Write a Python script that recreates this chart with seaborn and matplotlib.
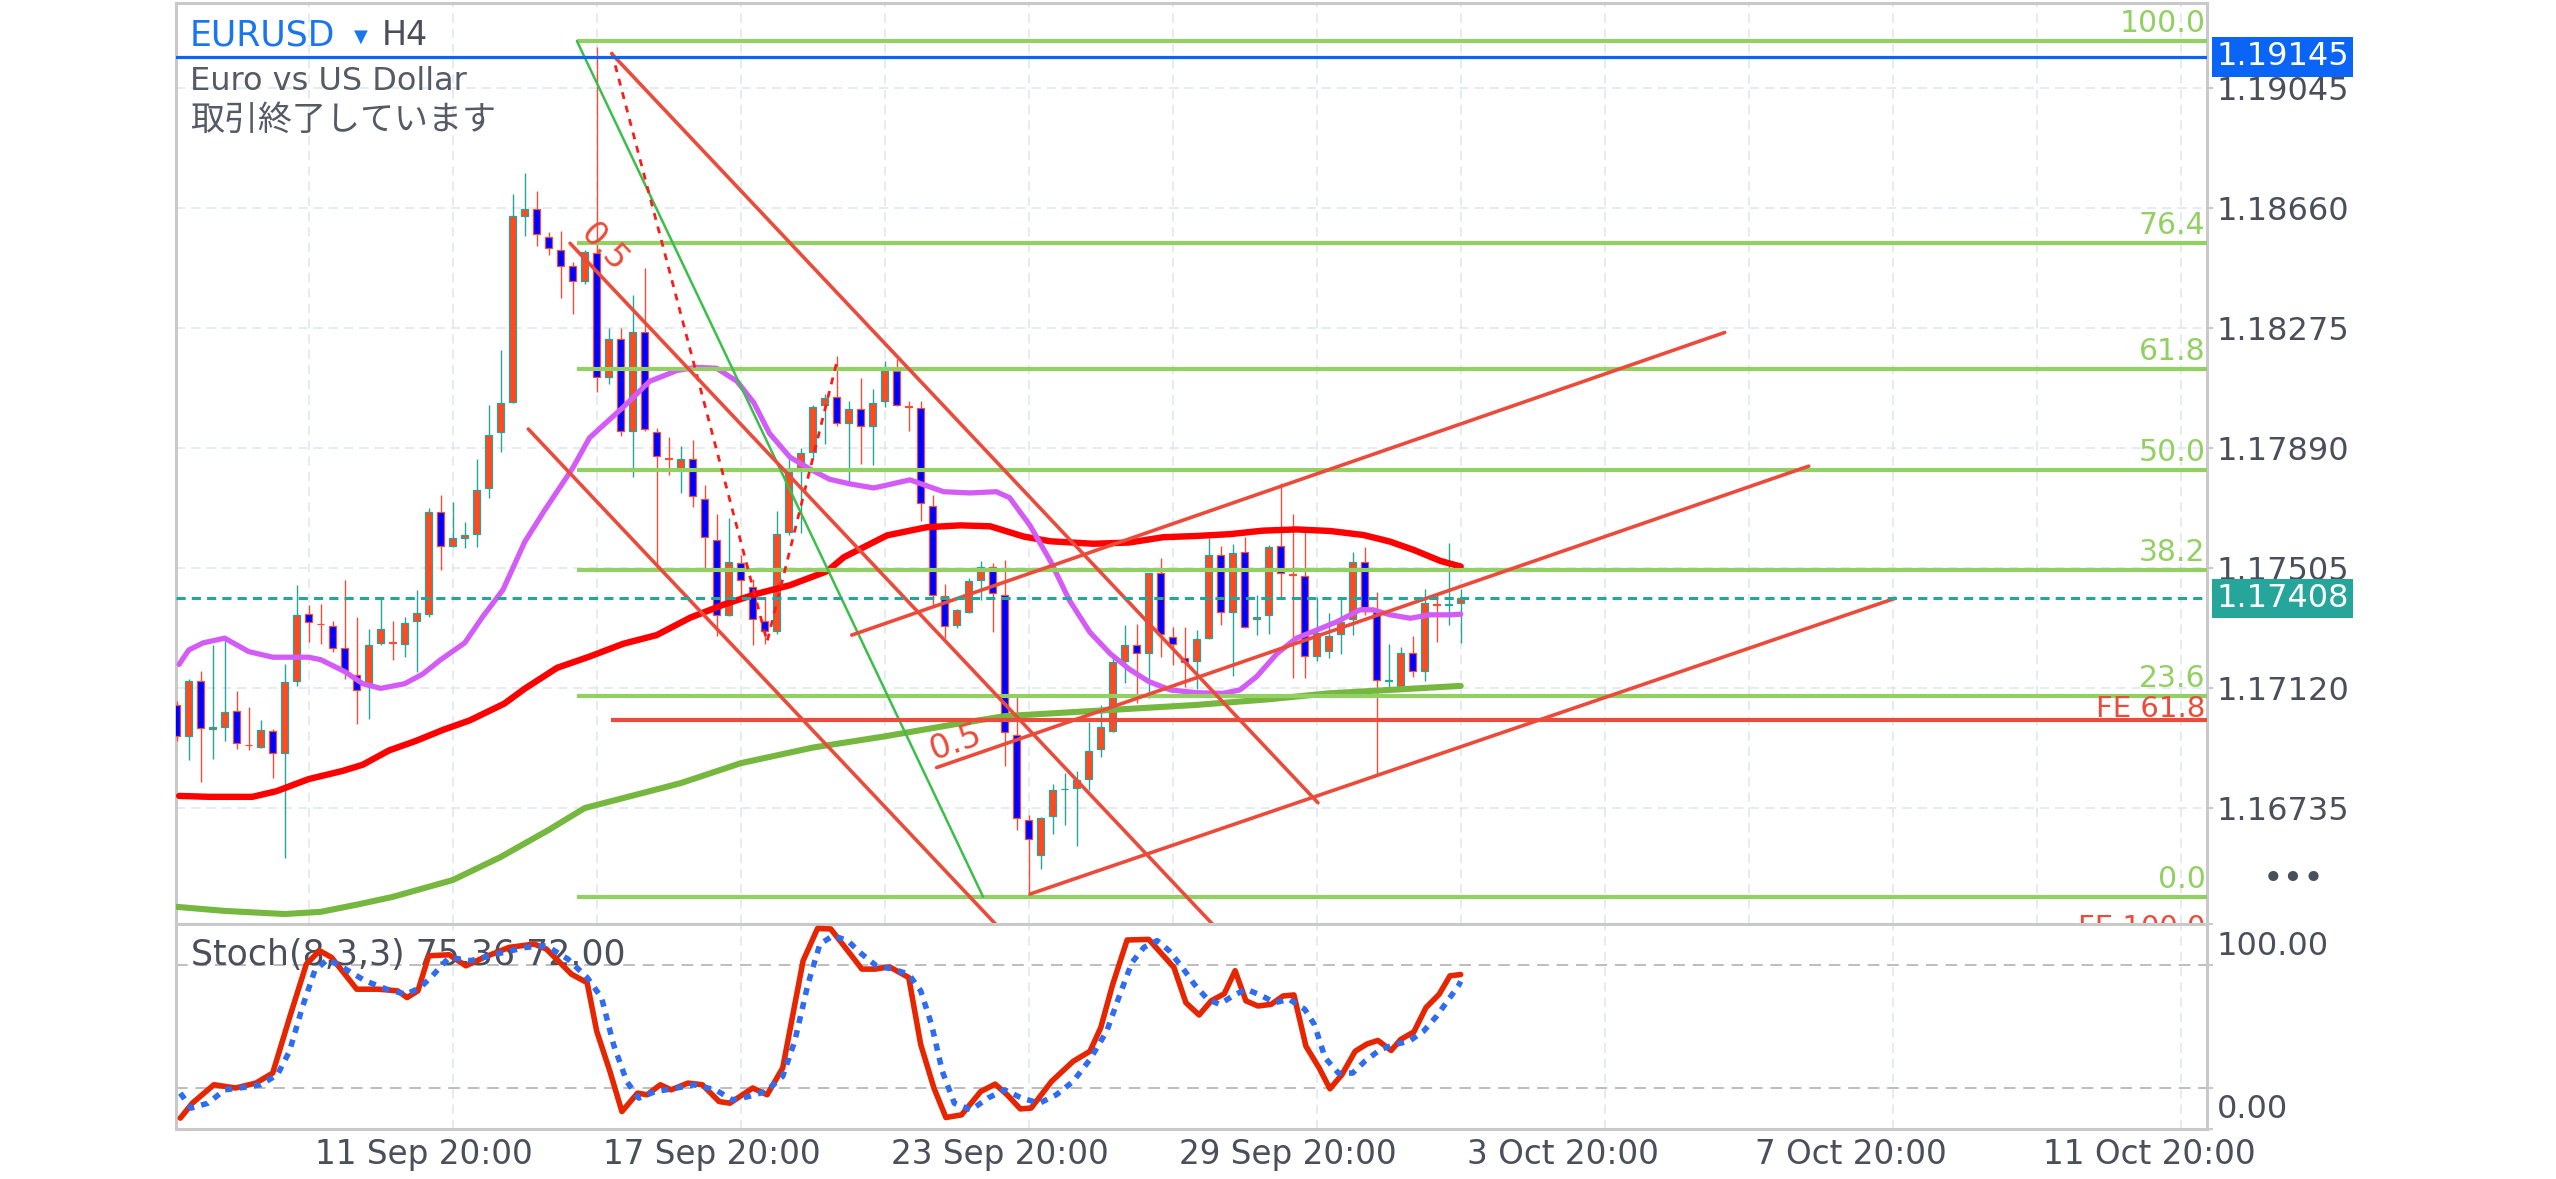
import numpy as np
import pandas as pd
import seaborn as sns
import matplotlib.pyplot as plt
from matplotlib import transforms

# EURUSD H4 candles, bars 1..108
opens = [1.17065, 1.16966, 1.17142, 1.16990, 1.16996, 1.17047, 1.16938, 1.16932, 1.16981, 1.16912,
         1.17142, 1.17357, 1.17326, 1.17319, 1.17247, 1.17161, 1.17134, 1.17265, 1.17268, 1.17260,
         1.17334, 1.17357, 1.17684, 1.17575, 1.17603, 1.17613, 1.17761, 1.17940, 1.18039, 1.18633,
         1.18658, 1.18567, 1.18526, 1.18473, 1.18427, 1.18515, 1.18118, 1.18240, 1.17944, 1.18264,
         1.17940, 1.17858, 1.17826, 1.17854, 1.17728, 1.17596, 1.17356, 1.17520, 1.17443, 1.17336,
         1.17304, 1.17620, 1.17815, 1.17879, 1.18028, 1.18054, 1.17969, 1.18016, 1.17962, 1.18041,
         1.18137, 1.18025, 1.18020, 1.17705, 1.17416, 1.17322, 1.17365, 1.17467, 1.17509, 1.17420,
         1.16970, 1.16697, 1.16583, 1.16710, 1.16795, 1.16798, 1.16827, 1.16925, 1.16982, 1.17208,
         1.17259, 1.17232, 1.17490, 1.17285, 1.17217, 1.17207, 1.17280, 1.17546, 1.17365, 1.17558,
         1.17341, 1.17353, 1.17577, 1.17486, 1.17481, 1.17223, 1.17239, 1.17294, 1.17341, 1.17526,
         1.17365, 1.17144, 1.17127, 1.17234, 1.17175, 1.17390, 1.17388, 1.17392]
highs = [1.17080, 1.17150, 1.17176, 1.17257, 1.17288, 1.17111, 1.17058, 1.17019, 1.16989, 1.17196,
         1.17452, 1.17385, 1.17391, 1.17334, 1.17468, 1.17349, 1.17311, 1.17411, 1.17334, 1.17349,
         1.17434, 1.17698, 1.17738, 1.17718, 1.17652, 1.17856, 1.18028, 1.18204, 1.18705, 1.18772,
         1.18716, 1.18584, 1.18588, 1.18487, 1.18524, 1.19178, 1.18274, 1.18274, 1.18380, 1.18469,
         1.17954, 1.17927, 1.17898, 1.17916, 1.17773, 1.17680, 1.17666, 1.17548, 1.17471, 1.17406,
         1.17687, 1.17854, 1.17889, 1.18028, 1.18065, 1.18187, 1.18041, 1.18114, 1.18080, 1.18168,
         1.18175, 1.18041, 1.18041, 1.17741, 1.17454, 1.17373, 1.17474, 1.17528, 1.17521, 1.17530,
         1.17090, 1.16713, 1.16706, 1.16811, 1.16849, 1.16853, 1.17010, 1.17065, 1.17223, 1.17322,
         1.17325, 1.17490, 1.17536, 1.17317, 1.17315, 1.17306, 1.17600, 1.17576, 1.17582, 1.17606,
         1.17419, 1.17579, 1.17777, 1.17678, 1.17622, 1.17413, 1.17362, 1.17411, 1.17558, 1.17574,
         1.17429, 1.17261, 1.17251, 1.17287, 1.17437, 1.17419, 1.17584, 1.17437]
lows = [1.16950, 1.16889, 1.16820, 1.16893, 1.16950, 1.16924, 1.16920, 1.16927, 1.16832, 1.16574,
        1.17127, 1.17268, 1.17262, 1.17237, 1.17150, 1.17004, 1.17022, 1.17257, 1.17211, 1.17219,
        1.17173, 1.17349, 1.17498, 1.17572, 1.17569, 1.17572, 1.17729, 1.17876, 1.18035, 1.18570,
        1.18538, 1.18508, 1.18371, 1.18320, 1.18417, 1.18069, 1.18097, 1.17930, 1.17798, 1.17944,
        1.17506, 1.17805, 1.17745, 1.17701, 1.17506, 1.17286, 1.17350, 1.17416, 1.17258, 1.17262,
        1.17294, 1.17610, 1.17617, 1.17854, 1.17902, 1.17962, 1.17775, 1.17838, 1.17835, 1.18022,
        1.18025, 1.17944, 1.17657, 1.17382, 1.17280, 1.17312, 1.17360, 1.17401, 1.17299, 1.16871,
        1.16665, 1.16456, 1.16538, 1.16652, 1.16680, 1.16612, 1.16792, 1.16900, 1.16980, 1.17137,
        1.17071, 1.17087, 1.17221, 1.17194, 1.17125, 1.17116, 1.17276, 1.17322, 1.17159, 1.17312,
        1.17290, 1.17294, 1.17413, 1.17151, 1.17151, 1.17208, 1.17218, 1.17229, 1.17290, 1.17354,
        1.16841, 1.17119, 1.17119, 1.17157, 1.17144, 1.17269, 1.17322, 1.17264]
closes = [1.16966, 1.17142, 1.16992, 1.16994, 1.17042, 1.16943, 1.16936, 1.16986, 1.16912, 1.17139,
          1.17354, 1.17331, 1.17324, 1.17250, 1.17176, 1.17115, 1.17257, 1.17308, 1.17266, 1.17330,
          1.17360, 1.17684, 1.17575, 1.17600, 1.17610, 1.17756, 1.17933, 1.18036, 1.18633, 1.18656,
          1.18577, 1.18531, 1.18473, 1.18427, 1.18519, 1.18118, 1.18240, 1.17944, 1.18264, 1.17951,
          1.17863, 1.17856, 1.17854, 1.17735, 1.17606, 1.17356, 1.17523, 1.17467, 1.17342, 1.17304,
          1.17614, 1.17812, 1.17875, 1.18021, 1.18051, 1.17969, 1.18016, 1.17962, 1.18035, 1.18137,
          1.18029, 1.18023, 1.17715, 1.17420, 1.17318, 1.17369, 1.17462, 1.17509, 1.17424, 1.16980,
          1.16703, 1.16637, 1.16703, 1.16792, 1.16797, 1.16824, 1.16919, 1.16995, 1.17204, 1.17259,
          1.17233, 1.17488, 1.17294, 1.17261, 1.17205, 1.17276, 1.17546, 1.17364, 1.17554, 1.17315,
          1.17349, 1.17572, 1.17488, 1.17484, 1.17223, 1.17298, 1.17288, 1.17333, 1.17526, 1.17379,
          1.17146, 1.17146, 1.17234, 1.17175, 1.17392, 1.17388, 1.17390, 1.17408]

# moving averages (bar, price)
ma_fast_x = [1.2, 2, 3.2, 5, 7, 9, 12, 13, 15, 16.5, 18, 20, 21.5, 23, 25, 26.5, 28.2, 30, 31.6, 34,
             35.4, 38.2, 40.4, 42.7, 44.3, 46, 47.7, 49.1, 50.4, 52.1, 53.8, 55.4, 57.1, 59.1, 62.1,
             64.9, 67.1, 69.3, 70.4, 72.1, 73.8, 75.4, 77.1, 78.8, 80.4, 82, 83.8, 86, 88.2, 89.6,
             91, 92.7, 94.3, 96, 97.7, 99.6, 100.7, 102.1, 103.8, 105.4, 107.1, 108]
ma_fast_y = [1.17196, 1.17242, 1.17265, 1.17280, 1.17237, 1.17219, 1.17219, 1.17211, 1.17173, 1.17134,
             1.17119, 1.17134, 1.17165, 1.17211, 1.17265, 1.17349, 1.17436, 1.17589, 1.17687, 1.17826,
             1.17923, 1.18021, 1.18104, 1.18139, 1.18149, 1.18146, 1.18104, 1.18035, 1.17937, 1.17861,
             1.17822, 1.17790, 1.17775, 1.17762, 1.17788, 1.17750, 1.17746, 1.17750, 1.17731, 1.17642,
             1.17528, 1.17401, 1.17299, 1.17230, 1.17180, 1.17141, 1.17114, 1.17105, 1.17103, 1.17114,
             1.17157, 1.17231, 1.17280, 1.17306, 1.17333, 1.17371, 1.17371, 1.17355, 1.17344, 1.17355,
             1.17355, 1.17357]
ma_mid_x = [1.2, 3.7, 7.3, 9.3, 12, 14.8, 16.5, 18.7, 20.9, 23.2, 25.4, 28.3, 30, 32.7, 35.4, 38.2,
            41, 43.8, 46.6, 49.3, 52.1, 55.2, 56.6, 60.2, 63.5, 66.3, 68.8, 71.6, 73.8, 77.4, 80.4,
            83.2, 86, 88.8, 91.5, 94.3, 97.1, 99.9, 102.1, 104.1, 106.3, 108]
ma_mid_y = [1.16774, 1.16771, 1.16771, 1.16789, 1.16828, 1.16854, 1.16874, 1.16920, 1.16950, 1.16986,
            1.17016, 1.17070, 1.17118, 1.17185, 1.17221, 1.17262, 1.17290, 1.17346, 1.17388, 1.17422,
            1.17450, 1.17495, 1.17540, 1.17610, 1.17636, 1.17642, 1.17639, 1.17606, 1.17591, 1.17583,
            1.17587, 1.17604, 1.17608, 1.17614, 1.17625, 1.17629, 1.17624, 1.17611, 1.17590, 1.17563,
            1.17528, 1.17510]
ma_slow_x = [1, 5, 10, 13, 16, 19, 24, 28, 32, 35, 40, 43, 48, 54, 60, 66, 70, 78, 86, 92, 97, 103, 108]
ma_slow_y = [1.16418, 1.16405, 1.16395, 1.16402, 1.16425, 1.16450, 1.16504, 1.16578, 1.16665, 1.16735,
             1.16785, 1.16815, 1.16879, 1.16929, 1.16965, 1.17005, 1.17030, 1.17048, 1.17066, 1.17084,
             1.17103, 1.17116, 1.17127]

# stochastic (8,3,3)
stoch_k_x = [1.3, 2.3, 4.1, 5.9, 7.6, 9, 10.4, 11.8, 12.9, 13.9, 16, 17.8, 19.4, 20.2, 21.1, 22, 23.7,
             25.1, 26.6, 28.7, 30.8, 31.8, 33.9, 35.2, 36, 37.1, 38.1, 39.4, 40.2, 41.3, 42.2, 43.6,
             44.8, 46.2, 47.1, 49, 50.2, 51.5, 53.2, 54.4, 55.5, 56.7, 58.1, 59.2, 60.4, 62, 63, 64.1,
             65.1, 66.4, 68, 69.2, 70.2, 71.3, 72.2, 73.9, 75.7, 77.1, 78, 79, 80.2, 82, 84.1, 85.1,
             86.2, 87.2, 88.3, 89.2, 90.1, 91.1, 92.2, 93.2, 94.1, 95.1, 96.2, 97.1, 98.1, 99.2, 100.2,
             101.1, 102.2, 103, 104.1, 105.1, 106.2, 107.1, 108]
stoch_k_y = [5.3, 12.6, 21.6, 20, 22.4, 27.3, 54.3, 80.4, 87, 83.7, 68.2, 68.2, 67.4, 64.1, 67.4, 84.5, 85,
             79.6, 83.7, 88.6, 90.2, 87.8, 75.5, 71.4, 47.7, 28.1, 8.5, 17.5, 16.7, 21.6, 19.1, 22.4,
             21.6, 13.4, 12.6, 20, 16.7, 29.8, 82.1, 97.8, 97.6, 88.6, 78, 78, 79.1, 73.9, 41.2, 20,
             5.6, 6.9, 18.3, 21.9, 16.7, 9.8, 10.2, 23.2, 33, 37.9, 49.4, 70.6, 92.2, 92.5, 78.8, 61.6,
             55.6, 62.5, 66, 77.2, 62.5, 60, 60.8, 64.9, 65.4, 40.4, 29.8, 19.6, 26.5, 37.9, 41.5,
             43.2, 38.3, 43.7, 47.4, 59.2, 65.7, 74.7, 75.36]
stoch_d_x = [1.3, 2.2, 3.6, 5, 6.6, 8, 9.4, 10.4, 11.5, 12.5, 13.6, 15.3, 16.7, 18.5, 20.1, 21.3, 22.3,
             23.7, 25.5, 27.6, 30.1, 31.8, 33.6, 35.2, 36.4, 37.4, 38.5, 39.5, 40.9, 42.3, 44.1, 45.9,
             47.3, 48.7, 50.1, 51.5, 52.5, 53.6, 54.6, 55.7, 56.9, 58.1, 59.3, 60.7, 62, 63, 63.9, 64.8,
             65.8, 67.2, 68.6, 70, 71.4, 72.9, 74.3, 75.7, 77.1, 78.5, 79.5, 80.6, 81.6, 82.7, 83.7,
             84.8, 85.8, 86.9, 87.9, 89, 90.1, 91.3, 92.5, 93.7, 95, 95.8, 96.7, 97.8, 99, 100, 101.3,
             102.5, 103.7, 104.9, 106, 106.9, 107.8, 108]
stoch_d_y = [17.5, 10.2, 12.6, 19.1, 20.3, 21.6, 26.5, 38, 60, 77.2, 82.9, 77.2, 72.3, 68.2, 65.7, 69,
             74.7, 83.7, 82.1, 85.3, 88.6, 89.4, 82.9, 73.9, 64.1, 41.2, 23.2, 15.1, 18.3, 19.6, 21.6,
             19.1, 14.2, 15.9, 18.3, 25.7, 42.8, 70.6, 90.2, 94.3, 91.9, 85.3, 79.6, 78, 75.5, 67.4, 51,
             28.1, 12.6, 9.3, 15.1, 19.1, 15.1, 12.6, 16.7, 23.2, 33.9, 47.7, 64.1, 81.2, 88.6, 91.9,
             87, 78.8, 70.6, 63.3, 60.8, 64.9, 68.2, 65.4, 61.6, 63.3, 58.4, 51, 34.7, 27.3, 27.3, 33,
             38.8, 41.2, 42.8, 47.7, 55.1, 62.5, 69.8, 72.0]

# drawing objects (bar, price)
fib_levels = [1.19196, 1.18549, 1.18145, 1.17820, 1.17500, 1.17095, 1.16450]
fib_labels = ['100.0', '76.4', '61.8', '50.0', '38.2', '23.6', '0.0']
fib_start = 34.35
fib_trend_x = [34.35, 68.2]
fib_trend_y = [1.19196, 1.16450]
fe_levels = [1.17019, 1.16289]
fe_labels = ['FE 61.8', 'FE 100.0']
fe_start = 37.2
zigzag_x = [37.25, 50.2, 56.1]
zigzag_y = [1.19161, 1.17269, 1.18181]
fork_down = [([37.25, 96.1], [1.19155, 1.16752]),
             ([33.78, 90.0], [1.18547, 1.16253]),
             ([30.3, 72.0], [1.17951, 1.16250])]
fork_up = [([57.25, 130.0], [1.17290, 1.18261]),
           ([64.33, 137.0], [1.16865, 1.17832]),
           ([72.1, 144.2], [1.16459, 1.17408])]
half_labels = [(36.6, 1.18532, -46.5), (65.9, 1.16946, 19.0)]
line_price = 1.19145
last_price = 1.17408

price_ticks = [1.16735, 1.17120, 1.17505, 1.17890, 1.18275, 1.18660, 1.19045]
date_ticks = [12, 36, 60, 84, 108, 132, 156]
date_labels = ['11 Sep 20:00', '17 Sep 20:00', '23 Sep 20:00', '29 Sep 20:00',
               '3 Oct 20:00', '7 Oct 20:00', '11 Oct 20:00']

# ---------------------------------------------------------------
sns.set_theme(style='white')
plt.rcParams['font.family'] = ['DejaVu Sans', 'Noto Sans CJK JP']

W, H = 2556, 1179
fig = plt.figure(figsize=(W / 100, H / 100), dpi=100, facecolor='white')


def fx(px):
    return px / W


def fy(py):
    return 1 - py / H


ax = fig.add_axes([fx(176), fy(924), fx(2207) - fx(176), fy(3) - fy(924)])
ax2 = fig.add_axes([fx(176), fy(1129), fx(2207) - fx(176), fy(924) - fy(1129)])

spine_col = '#c9c9c9'
text_col = '#4b4f5b'
grid_col = '#dce6ee'
fib_col = '#93d063'
chan_col = '#eb4b3a'
XL = (0.94, 170.19)

for a in (ax, ax2):
    a.set_facecolor('white')
    a.set_xlim(*XL)
    for s in a.spines.values():
        s.set_color(spine_col)
        s.set_linewidth(2.2)

# candles
bars = pd.DataFrame({'bar': np.arange(1, len(opens) + 1), 'open': opens, 'high': highs,
                     'low': lows, 'close': closes})
up = bars['close'] >= bars['open']
body_col = np.where(up, '#ff4a1f', '#0000ff')
edge_col = np.where(up, '#26a69a', '#f0503a')
ax.vlines(bars['bar'], bars['low'], bars['high'], colors=edge_col, lw=1.0, zorder=3)
body_bot = np.minimum(bars['open'], bars['close'])
body_h = np.maximum((bars['close'] - bars['open']).abs(), 0.00001)
ax.bar(bars['bar'], body_h, bottom=body_bot, width=0.55, color=body_col,
       edgecolor=edge_col, linewidth=0.9, zorder=4)

# moving averages
sns.lineplot(x=ma_slow_x, y=ma_slow_y, ax=ax, color='#76b83f', lw=4.4, sort=False, zorder=5)
sns.lineplot(x=ma_mid_x, y=ma_mid_y, ax=ax, color='#ff0000', lw=4.6, sort=False, zorder=5)
sns.lineplot(x=ma_fast_x, y=ma_fast_y, ax=ax, color='#d45cf6', lw=3.8, sort=False, zorder=5)

# fibonacci retracement
for lvl, lbl in zip(fib_levels, fib_labels):
    ax.plot([fib_start, XL[1]], [lvl, lvl], color=fib_col, lw=3.0, zorder=6, solid_capstyle='butt')
    tr = transforms.offset_copy(ax.transData, fig=fig, x=-1, y=2, units='points')
    ax.text(XL[1], lvl, lbl, transform=tr, ha='right', va='bottom', color=fib_col,
            fontsize=21.5, zorder=7, clip_on=True)
ax.plot(fib_trend_x, fib_trend_y, color='#3cbf4a', lw=1.8, zorder=6)

# fibonacci expansion
for lvl, lbl, dy in zip(fe_levels, fe_labels, [2, 8]):
    ax.plot([fe_start, XL[1]], [lvl, lvl], color=chan_col, lw=3.0, zorder=6, solid_capstyle='butt')
    tr = transforms.offset_copy(ax.transData, fig=fig, x=-1, y=dy, units='points')
    ax.text(XL[1], lvl, lbl, transform=tr, ha='right', va='baseline', color=chan_col,
            fontsize=21, zorder=7, clip_on=True)
ax.plot(zigzag_x, zigzag_y, color='#ff1a1a', lw=2.0, ls=(0, (2.5, 2.5)), zorder=6)

# pitchfork / channel lines
for xs, ys in fork_down + fork_up:
    ax.plot(xs, ys, color=chan_col, lw=2.6, zorder=6)
for bx, py, rot in half_labels:
    ax.text(bx, py, '0.5', rotation=rot, rotation_mode='anchor', ha='center', va='center',
            color=chan_col, fontsize=24, zorder=7)

# horizontal price lines
ax.axhline(line_price, color='#0a64f5', lw=2.3, zorder=6)
ax.axhline(last_price, color='#26a69a', lw=2.2, ls=(0, (3, 2)), zorder=6)

ax.set_ylim(1.16363, 1.19318)
ax.set_yticks(price_ticks)
ax.set_yticklabels([f'{p:.5f}' for p in price_ticks])
ax.yaxis.tick_right()
ax.tick_params(axis='y', direction='out', length=4, width=1.5, color=spine_col, pad=3,
               labelsize=23, labelcolor=text_col)
ax.set_xticks(np.arange(12, 170, 12))
ax.tick_params(axis='x', length=0, labelbottom=False)
ax.grid(True, color=grid_col, lw=1.1, ls=(0, (6, 4)))
ax.set_axisbelow(True)

for price, bg in [(line_price, '#0a64f5'), (last_price, '#26a69a')]:
    ax.annotate(f'{price:.5f}', xy=(1, price), xycoords=('axes fraction', 'data'),
                xytext=(6.5, 0), textcoords='offset points', ha='left', va='center',
                color='white', fontsize=23, zorder=10,
                bbox=dict(boxstyle='square,pad=0.13', fc=bg, ec='none'))

# stochastic panel
sns.lineplot(x=stoch_k_x, y=stoch_k_y, ax=ax2, color='#e52600', lw=4.0, sort=False, zorder=4)
sns.lineplot(x=stoch_d_x, y=stoch_d_y, ax=ax2, color='#2f6cf0', lw=4.0, sort=False, zorder=5,
             linestyle=(0, (1.3, 1.3)))
ax2.set_ylim(0, 100)
ax2.set_yticks([0, 20, 80, 100])
ax2.set_yticklabels([])
ax2.yaxis.tick_right()
ax2.tick_params(axis='y', direction='out', length=4, width=1.5, color=spine_col)
ax2.set_xticks(np.arange(12, 170, 12), minor=True)
ax2.xaxis.grid(True, which='minor', color=grid_col, lw=1.1, ls=(0, (6, 4)))
for lvl in (20, 80):
    ax2.axhline(lvl, color='#bdbdbd', lw=1.4, ls=(0, (6, 4)), zorder=1)
ax2.set_xticks(date_ticks)
ax2.set_xticklabels(date_labels, ha='left')
ax2.tick_params(axis='x', direction='out', length=4.5, width=1.5, color=spine_col, pad=2,
                labelsize=23.5, labelcolor=text_col)
shift = transforms.ScaledTranslation(6 / 100, 0, fig.dpi_scale_trans)
for lab in ax2.get_xticklabels():
    lab.set_transform(lab.get_transform() + shift)
ax2.set_axisbelow(True)
ax2.annotate('100.00', xy=(1, 100), xycoords=('axes fraction', 'data'), xytext=(7, -5),
             textcoords='offset points', ha='left', va='top', color=text_col, fontsize=23)
ax2.annotate('0.00', xy=(1, 0), xycoords=('axes fraction', 'data'), xytext=(7, 3),
             textcoords='offset points', ha='left', va='bottom', color=text_col, fontsize=23)
ax2.text(0.0075, 0.85, 'Stoch(8,3,3) 75.36 72.00', transform=ax2.transAxes, ha='left',
         va='center', color=text_col, fontsize=25, zorder=2)

# header
fig.text(fx(190), fy(45), 'EURUSD', ha='left', va='baseline', color='#1a75f0', fontsize=25)
fig.text(fx(354), fy(42), '▼', ha='left', va='baseline', color='#1a75f0', fontsize=13)
fig.text(fx(382), fy(45), 'H4', ha='left', va='baseline', color=text_col, fontsize=24)
fig.text(fx(190), fy(90), 'Euro vs US Dollar', ha='left', va='baseline', color='#555a66',
         fontsize=23)
fig.text(fx(190), fy(130), '取引終了しています', ha='left', va='baseline', color='#555a66',
         fontsize=24.5, family=['Noto Sans CJK JP', 'DejaVu Sans'])
fig.text(fx(2294), fy(879), '•••', ha='center', va='center', color='#4b4f5b', fontsize=25)

fig.savefig('out.png', dpi=100, facecolor='white')
